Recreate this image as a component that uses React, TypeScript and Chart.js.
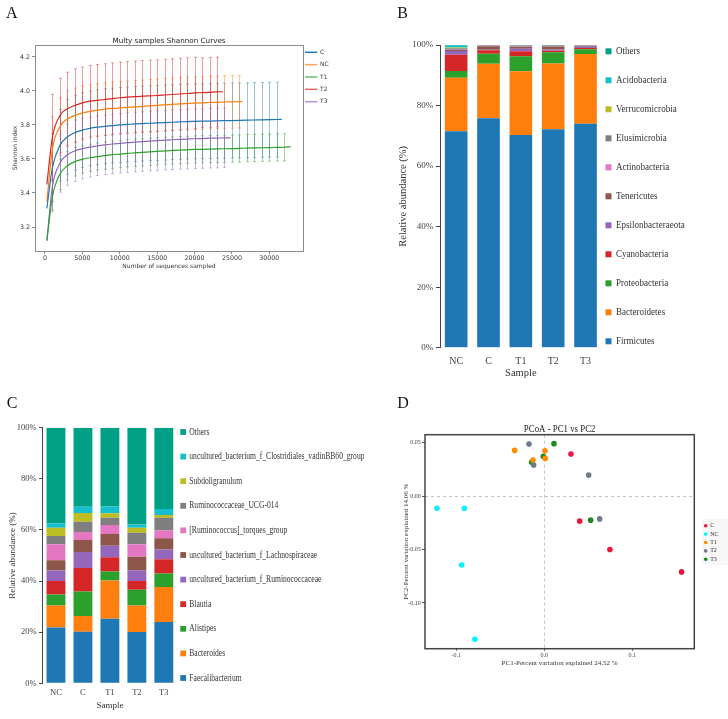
import React, { useEffect, useRef } from 'react';
import { Chart, registerables } from 'chart.js';

Chart.register(...registerables);

const SERIF = "'Liberation Serif', 'Times New Roman', serif";
const SANS = "'DejaVu Sans', sans-serif";

// ---------------- Panel A : Shannon rarefaction curves ----------------
const depths = [250, 1000, 2000, 3000, 4000, 5000, 6000, 7000, 8000, 9000, 10000, 11000, 12000, 13000, 14000, 15000, 16000, 17000, 18000, 19000, 20000, 21000, 22000, 23000, 24000, 25000, 26000, 27000, 28000, 29000, 30000, 31000, 32000];
const shannonGroups = ['C', 'NC', 'T1', 'T2', 'T3'];
const shannonColors = ['#1f77b4', '#ff7f0e', '#2ca02c', '#d62728', '#9467bd'];
const shannonC = [3.31, 3.55, 3.68, 3.73, 3.755, 3.77, 3.78, 3.787, 3.792, 3.796, 3.8, 3.803, 3.806, 3.808, 3.81, 3.812, 3.814, 3.816, 3.818, 3.82, 3.821, 3.822, 3.823, 3.824, 3.825, 3.826, 3.827, 3.828, 3.829, 3.83, 3.831, 3.832];
const shannonCSd = [null, 0.2, 0.21, 0.22, 0.22, 0.22, 0.22, 0.22, 0.22, 0.22, 0.22, 0.22, 0.22, 0.22, 0.22, 0.22, 0.22, 0.22, 0.22, 0.22, 0.22, 0.22, 0.22, 0.22, 0.22, 0.22, 0.22, 0.22, 0.22, 0.22, 0.22, 0.22];
const shannonCEnd = [31650, 3.833];
const shannonNC = [3.35, 3.66, 3.79, 3.835, 3.857, 3.87, 3.88, 3.887, 3.893, 3.897, 3.9, 3.903, 3.906, 3.909, 3.912, 3.915, 3.918, 3.921, 3.924, 3.926, 3.928, 3.93, 3.932, 3.933, 3.935, 3.936, 3.937];
const shannonNCSd = [null, 0.19, 0.17, 0.165, 0.16, 0.16, 0.158, 0.156, 0.155, 0.155, 0.155, 0.155, 0.155, 0.155, 0.155, 0.155, 0.155, 0.155, 0.155, 0.155, 0.155, 0.155, 0.155, 0.155, 0.155, 0.155, 0.155];
const shannonNCEnd = [26390, 3.938];
const shannonT1 = [3.12, 3.38, 3.51, 3.56, 3.585, 3.598, 3.607, 3.614, 3.62, 3.625, 3.629, 3.633, 3.636, 3.639, 3.642, 3.645, 3.648, 3.65, 3.652, 3.654, 3.656, 3.657, 3.658, 3.659, 3.66, 3.661, 3.662, 3.664, 3.665, 3.666, 3.667, 3.668, 3.669];
const shannonT1Sd = [null, 0.09, 0.09, 0.085, 0.085, 0.082, 0.08, 0.08, 0.08, 0.08, 0.08, 0.08, 0.08, 0.08, 0.08, 0.08, 0.08, 0.08, 0.08, 0.08, 0.08, 0.08, 0.08, 0.08, 0.08, 0.08, 0.08, 0.08, 0.08, 0.08, 0.08, 0.08, 0.08];
const shannonT1End = [32860, 3.672];
const shannonT2 = [3.45, 3.73, 3.855, 3.895, 3.915, 3.93, 3.94, 3.945, 3.95, 3.955, 3.96, 3.963, 3.966, 3.969, 3.971, 3.973, 3.976, 3.979, 3.982, 3.985, 3.988, 3.99, 3.992, 3.994];
const shannonT2Sd = [null, 0.25, 0.22, 0.215, 0.215, 0.21, 0.21, 0.21, 0.21, 0.21, 0.21, 0.21, 0.21, 0.21, 0.21, 0.21, 0.21, 0.21, 0.21, 0.21, 0.21, 0.205, 0.205, 0.205];
const shannonT2End = [23770, 3.996];
const shannonT3 = [3.12, 3.44, 3.575, 3.625, 3.648, 3.661, 3.67, 3.677, 3.683, 3.688, 3.692, 3.696, 3.699, 3.702, 3.705, 3.708, 3.711, 3.713, 3.715, 3.717, 3.719, 3.72, 3.722, 3.723, 3.724];
const shannonT3Sd = [null, 0.14, 0.17, 0.18, 0.18, 0.178, 0.176, 0.175, 0.175, 0.175, 0.175, 0.175, 0.175, 0.175, 0.175, 0.175, 0.175, 0.175, 0.175, 0.175, 0.175, 0.175, 0.175, 0.175, 0.175];
const shannonT3End = [24830, 3.725];
const shannonXTicks = [0, 5000, 10000, 15000, 20000, 25000, 30000];
const shannonYTicks = [3.2, 3.4, 3.6, 3.8, 4.0, 4.2];

// ---------------- Panel B : phylum composition ----------------
const samples = ['NC', 'C', 'T1', 'T2', 'T3'];
const phyla = ['Firmicutes', 'Bacteroidetes', 'Proteobacteria', 'Cyanobacteria', 'Epsilonbacteraeota', 'Tenericutes', 'Actinobacteria', 'Elusimicrobia', 'Verrucomicrobia', 'Acidobacteria', 'Others'];
const phylaColors = ['#1f77b4', '#ff7f0e', '#2ca02c', '#d62728', '#9467bd', '#8c564b', '#e377c2', '#7f7f7f', '#bcbd22', '#17becf', '#00a086'];
const firmicutes = [71.5, 75.8, 70.3, 72.2, 74.0];
const bacteroidetes = [17.7, 18.0, 21.0, 21.7, 23.0];
const proteobacteria = [2.2, 3.3, 5.0, 3.7, 1.6];
const cyanobacteria = [5.4, 1.2, 1.6, 0.5, 0.4];
const epsilonbacteraeota = [1.2, 0.1, 0.9, 0.4, 0.4];
const tenericutes = [0.4, 1.2, 0.6, 1.0, 0.3];
const actinobacteria = [0.1, 0.15, 0.2, 0.1, 0.05];
const elusimicrobia = [0.4, 0.15, 0.2, 0.2, 0.15];
const verrucomicrobia = [0.3, 0.02, 0.05, 0.05, 0.02];
const acidobacteria = [0.6, 0.03, 0.05, 0.05, 0.03];
const phylaOthers = [0.2, 0.05, 0.1, 0.1, 0.05];
const phylaValues = [firmicutes, bacteroidetes, proteobacteria, cyanobacteria, epsilonbacteraeota, tenericutes, actinobacteria, elusimicrobia, verrucomicrobia, acidobacteria, phylaOthers];
const percentTicks = [0, 20, 40, 60, 80, 100];

// ---------------- Panel C : genus composition ----------------
const genera = ['Faecalibacterium', 'Bacteroides', 'Alistipes', 'Blautia', 'uncultured_bacterium_f_Ruminococcaceae', 'uncultured_bacterium_f_Lachnospiraceae', '[Ruminococcus]_torques_group', 'Ruminococcaceae_UCG-014', 'Subdoligranulum', 'uncultured_bacterium_f_Clostridiales_vadinBB60_group', 'Others'];
const generaColors = ['#1f77b4', '#ff7f0e', '#2ca02c', '#d62728', '#9467bd', '#8c564b', '#e377c2', '#7f7f7f', '#bcbd22', '#17becf', '#00a086'];
const faecalibacterium = [21.8, 20.2, 25.3, 20.1, 24.0];
const bacteroides = [8.6, 6.1, 14.9, 10.3, 13.7];
const alistipes = [4.3, 9.6, 3.5, 6.2, 5.3];
const blautia = [5.3, 9.2, 5.6, 3.4, 5.5];
const ruminococcaceaeF = [4.1, 6.3, 4.5, 4.2, 3.8];
const lachnospiraceaeF = [4.0, 4.7, 4.6, 5.3, 4.4];
const torquesGroup = [6.3, 3.1, 3.5, 4.9, 3.1];
const ucg014 = [3.2, 4.0, 2.9, 4.5, 5.0];
const subdoligranulum = [3.3, 3.4, 1.7, 2.0, 1.0];
const vadinBB60 = [1.7, 2.5, 2.7, 1.2, 2.4];
const generaOthers = [37.4, 30.9, 30.8, 37.9, 31.8];
const generaValues = [faecalibacterium, bacteroides, alistipes, blautia, ruminococcaceaeF, lachnospiraceaeF, torquesGroup, ucg014, subdoligranulum, vadinBB60, generaOthers];

// ---------------- Panel D : PCoA ----------------
const pcoaGroups = ['C', 'NC', 'T1', 'T2', 'T3'];
const pcoaColors = ['#e8173f', '#00f5ff', '#ff8c00', '#6d7b8d', '#1e8b1e'];
const pcoaC = [[0.0303, 0.0394], [0.0402, -0.0234], [0.0746, -0.05], [0.156, -0.0709]];
const pcoaNC = [[-0.122, -0.0113], [-0.0909, -0.0113], [-0.0939, -0.0644], [-0.0788, -0.134]];
const pcoaT1 = [[-0.0337, 0.0428], [0.0008, 0.0425], [-0.0129, 0.0338], [0.0011, 0.0353]];
const pcoaT2 = [[-0.0174, 0.0488], [-0.0121, 0.0291], [0.0504, 0.0197], [0.0629, -0.0213]];
const pcoaT3 = [[0.011, 0.0491], [-0.0011, 0.0372], [-0.0144, 0.0316], [0.0527, -0.0225]];
const pcoaXTicks = [-0.1, 0, 0.1];
const pcoaYTicks = [-0.1, -0.05, 0, 0.05];

// ---------------- helpers ----------------
function drawText(ctx: any, text: string, x: number, y: number, font: string, color: string, align = 'left', sx = 1, baseline = 'middle') {
  ctx.save();
  ctx.font = font;
  ctx.fillStyle = color;
  ctx.textAlign = align;
  ctx.textBaseline = baseline;
  ctx.translate(x, y);
  ctx.scale(sx, 1);
  ctx.fillText(text, 0, 0);
  ctx.restore();
}

function fixedTicks(values: number[]) {
  return (scale: any) => {
    scale.ticks = values.map((v) => ({ value: v }));
  };
}

// ---------------- configs ----------------
function configA() {
  const series = [
    { mean: shannonC, sd: shannonCSd, end: shannonCEnd },
    { mean: shannonNC, sd: shannonNCSd, end: shannonNCEnd },
    { mean: shannonT1, sd: shannonT1Sd, end: shannonT1End },
    { mean: shannonT2, sd: shannonT2Sd, end: shannonT2End },
    { mean: shannonT3, sd: shannonT3Sd, end: shannonT3End },
  ];
  const datasets = series.map((s, i) => ({
    label: shannonGroups[i],
    data: [...s.mean.map((m, k) => ({ x: depths[k], y: m })), { x: s.end[0], y: s.end[1] }],
    sd: [...s.sd, null],
    borderColor: shannonColors[i],
    borderWidth: 1.2,
    pointRadius: 0,
    fill: false,
    cubicInterpolationMode: 'monotone',
  }));
  const frame = '#8c8c8c';
  const plugin = {
    id: 'panelA',
    beforeDatasetsDraw(chart: any) {
      const { ctx, scales } = chart;
      const x = scales.x, y = scales.y;
      chart.data.datasets.forEach((ds: any) => {
        ctx.save();
        ctx.strokeStyle = ds.borderColor;
        ctx.globalAlpha = 0.45;
        ctx.lineWidth = 1;
        ds.data.forEach((p: any, i: number) => {
          const sd = ds.sd[i];
          if (sd == null) return;
          const px = Math.round(x.getPixelForValue(p.x)) + 0.5;
          const y1 = y.getPixelForValue(p.y - sd);
          const y2 = y.getPixelForValue(p.y + sd);
          ctx.beginPath();
          ctx.moveTo(px, y1); ctx.lineTo(px, y2);
          ctx.moveTo(px - 1.5, y1); ctx.lineTo(px + 1.5, y1);
          ctx.moveTo(px - 1.5, y2); ctx.lineTo(px + 1.5, y2);
          ctx.stroke();
        });
        ctx.restore();
      });
    },
    afterDraw(chart: any) {
      const { ctx, chartArea: a } = chart;
      ctx.save();
      ctx.strokeStyle = frame;
      ctx.lineWidth = 1;
      ctx.strokeRect(Math.round(a.left) + 0.5, Math.round(a.top) + 0.5, Math.round(a.right - a.left), Math.round(a.bottom - a.top));
      ctx.restore();
      drawText(ctx, 'Multy samples Shannon Curves', (a.left + a.right) / 2, 41, `7.2px ${SANS}`, '#222', 'center');
      shannonGroups.forEach((g, i) => {
        const yy = 52.3 + i * 12.35;
        ctx.save();
        ctx.strokeStyle = shannonColors[i];
        ctx.globalAlpha = i === 0 ? 1 : 0.7;
        ctx.lineWidth = 1.5;
        ctx.beginPath(); ctx.moveTo(305, yy); ctx.lineTo(317.3, yy); ctx.stroke();
        ctx.restore();
        drawText(ctx, g, 320, yy, `6px ${SANS}`, '#333');
      });
      drawText(ctx, 'A', 6, 17.5, `16px ${SERIF}`, '#111', 'left', 1, 'alphabetic');
    },
  };
  return {
    type: 'line',
    data: { datasets },
    plugins: [plugin],
    options: {
      responsive: false,
      animation: false,
      devicePixelRatio: 1,
      layout: { padding: { left: 0, top: 45, right: 61, bottom: 0 } },
      plugins: { legend: { display: false }, tooltip: { enabled: false } },
      scales: {
        x: {
          type: 'linear', min: -1335, max: 34500,
          afterBuildTicks: fixedTicks(shannonXTicks),
          afterFit: (s: any) => { s.height = 49; },
          ticks: { font: { family: SANS, size: 6.3 }, color: '#333', padding: 0.5, maxRotation: 0, autoSkip: false, callback: (v: any) => String(v) },
          grid: { drawOnChartArea: false, drawTicks: true, tickLength: 3, color: frame },
          border: { display: false },
          title: { display: true, text: 'Number of sequences sampled', font: { family: SANS, size: 6 }, color: '#333', padding: { top: 0, bottom: 29.7 } },
        },
        y: {
          type: 'linear', min: 3.059, max: 4.27,
          afterBuildTicks: fixedTicks(shannonYTicks),
          afterFit: (s: any) => { s.width = 35; },
          ticks: { font: { family: SANS, size: 6.3 }, color: '#333', padding: 2, autoSkip: false, callback: (v: any) => Number(v).toFixed(1) },
          grid: { drawOnChartArea: false, drawTicks: true, tickLength: 3, color: frame },
          border: { display: false },
          title: { display: true, text: 'Shannon index', font: { family: SANS, size: 6 }, color: '#333', padding: { top: 11.4, bottom: 0 } },
        },
      },
    },
  };
}

function stackedConfig(opts: any) {
  const { names, colors, values, padding, yWidth, xHeight, tickFont, xTickFont, xPad, yPad, yTickLen, titleFont, yTitlePad, xTitlePad, legend, letter } = opts;
  const datasets = names.map((n: string, i: number) => ({
    label: n,
    data: values[i],
    backgroundColor: colors[i],
    borderWidth: 0,
    barPercentage: 0.7,
    categoryPercentage: 1,
  }));
  const plugin = {
    id: 'stackedExtras',
    afterDraw(chart: any) {
      const { ctx } = chart;
      for (let i = 0; i < names.length; i++) {
        const idx = names.length - 1 - i;
        const yy = legend.y0 + i * legend.dy;
        ctx.save();
        ctx.fillStyle = colors[idx];
        ctx.fillRect(legend.x, yy - legend.sq / 2, legend.sq, legend.sq);
        ctx.restore();
        drawText(ctx, names[idx], legend.tx, yy, `${legend.size}px ${SERIF}`, '#333', 'left', legend.sx);
      }
      drawText(ctx, letter.text, letter.x, letter.y, `16px ${SERIF}`, '#111', 'left', 1, 'alphabetic');
    },
  };
  return {
    type: 'bar',
    data: { labels: samples, datasets },
    plugins: [plugin],
    options: {
      responsive: false,
      animation: false,
      devicePixelRatio: 1,
      layout: { padding },
      plugins: { legend: { display: false }, tooltip: { enabled: false } },
      scales: {
        x: {
          stacked: true,
          afterFit: (s: any) => { s.height = xHeight; },
          grid: { display: false, drawTicks: false, tickLength: 0 },
          border: { display: false },
          ticks: { font: { family: SERIF, size: xTickFont }, color: '#444', padding: xPad, maxRotation: 0 },
          title: { display: true, text: 'Sample', font: { family: SERIF, size: titleFont }, color: '#333', padding: { top: 0, bottom: xTitlePad } },
        },
        y: {
          stacked: true, min: 0, max: 100,
          afterBuildTicks: fixedTicks(percentTicks),
          afterFit: (s: any) => { s.width = yWidth; },
          grid: { drawOnChartArea: false, drawTicks: true, tickLength: yTickLen, color: '#444' },
          border: { display: true, color: '#444', width: 1 },
          ticks: { font: { family: SERIF, size: tickFont }, color: '#444', padding: yPad, callback: (v: any) => `${v}%` },
          title: { display: true, text: 'Relative abundance (%)', font: { family: SERIF, size: titleFont }, color: '#333', padding: { top: yTitlePad, bottom: 0 } },
        },
      },
    },
  };
}

function configB() {
  return stackedConfig({
    names: phyla, colors: phylaColors, values: phylaValues,
    padding: { left: 0, top: 45, right: 126.3, bottom: 0 },
    yWidth: 76, xHeight: 32.3, tickFont: 9, xTickFont: 10, xPad: 7.3, yPad: 2.7, yTickLen: 4,
    titleFont: 10.5, yTitlePad: 32.7, xTitlePad: 0.2,
    legend: { x: 241.5, tx: 252, sq: 6, y0: 51.3, dy: 29.0, size: 10.5, sx: 0.86 },
    letter: { text: 'B', x: 33.3, y: 18.3 },
  });
}

function configC() {
  return stackedConfig({
    names: genera, colors: generaColors, values: generaValues,
    padding: { left: 0, top: 67.7, right: 186.7, bottom: 0 },
    yWidth: 42.5, xHeight: 35.7, tickFont: 8.5, xTickFont: 8.5, xPad: 4.6, yPad: 2.3, yTickLen: 3.5,
    titleFont: 9, yTitlePad: 7.3, xTitlePad: 7.9,
    legend: { x: 180.3, tx: 189.3, sq: 5.8, y0: 72, dy: 24.6, size: 9.5, sx: 0.8 },
    letter: { text: 'C', x: 6.7, y: 48.3 },
  });
}

function configD() {
  const groups = [pcoaC, pcoaNC, pcoaT1, pcoaT2, pcoaT3];
  const datasets = groups.map((g, i) => ({
    label: pcoaGroups[i],
    data: g.map((p) => ({ x: p[0], y: p[1] })),
    backgroundColor: pcoaColors[i],
    borderWidth: 0,
    pointRadius: 2.8,
  }));
  const plugin = {
    id: 'panelD',
    beforeDatasetsDraw(chart: any) {
      const { ctx, chartArea: a, scales } = chart;
      const x0 = Math.round(scales.x.getPixelForValue(0)) + 0.5;
      const y0 = Math.round(scales.y.getPixelForValue(0)) + 0.5;
      ctx.save();
      ctx.strokeStyle = '#c4c4c4';
      ctx.lineWidth = 1;
      ctx.setLineDash([3, 3]);
      ctx.beginPath();
      ctx.moveTo(x0, a.top); ctx.lineTo(x0, a.bottom);
      ctx.moveTo(a.left, y0); ctx.lineTo(a.right, y0);
      ctx.stroke();
      ctx.restore();
    },
    afterDraw(chart: any) {
      const { ctx, chartArea: a } = chart;
      ctx.save();
      ctx.strokeStyle = '#444';
      ctx.lineWidth = 1.5;
      ctx.strokeRect(a.left, a.top, a.right - a.left, a.bottom - a.top);
      ctx.restore();
      drawText(ctx, 'PCoA - PC1 vs PC2', (a.left + a.right) / 2, 49, `10.5px ${SERIF}`, '#222', 'center', 0.84);
      ctx.save();
      ctx.fillStyle = '#f7f7f7';
      ctx.fillRect(338, 139, 26, 46);
      ctx.restore();
      pcoaGroups.forEach((g, i) => {
        const yy = 145.7 + i * 8.4;
        ctx.save();
        ctx.fillStyle = pcoaColors[i];
        ctx.beginPath(); ctx.arc(341.7, yy, 1.8, 0, Math.PI * 2); ctx.fill();
        ctx.restore();
        drawText(ctx, g, 346.2, yy, `6px ${SERIF}`, '#333');
      });
      drawText(ctx, 'D', 33.3, 28.3, `16px ${SERIF}`, '#111', 'left', 1, 'alphabetic');
    },
  };
  return {
    type: 'scatter',
    data: { datasets },
    plugins: [plugin],
    options: {
      responsive: false,
      animation: false,
      devicePixelRatio: 1,
      layout: { padding: { left: 0, top: 54.7, right: 33.7, bottom: 0 } },
      plugins: { legend: { display: false }, tooltip: { enabled: false } },
      scales: {
        x: {
          type: 'linear', min: -0.1356, max: 0.1705,
          afterBuildTicks: fixedTicks(pcoaXTicks),
          afterFit: (s: any) => { s.height = 70.3; },
          ticks: { font: { family: SERIF, size: 6 }, color: '#444', padding: 0.7, autoSkip: false, maxRotation: 0, callback: (v: any) => Number(v).toFixed(1) },
          grid: { drawOnChartArea: false, drawTicks: true, tickLength: 2, color: '#555' },
          border: { display: false },
          title: { display: true, text: 'PC1-Percent variation explained 24.52 %', font: { family: SERIF, size: 7 }, color: '#333', padding: { top: 0, bottom: 51.8 } },
        },
        y: {
          type: 'linear', min: -0.1428, max: 0.0575,
          afterBuildTicks: fixedTicks(pcoaYTicks),
          afterFit: (s: any) => { s.width = 61; },
          ticks: { font: { family: SERIF, size: 6 }, color: '#444', padding: 1.3, autoSkip: false, callback: (v: any) => Number(v).toFixed(2) },
          grid: { drawOnChartArea: false, drawTicks: true, tickLength: 3, color: '#555' },
          border: { display: false },
          title: { display: true, text: 'PC2-Percent variation explained 14.06 %', font: { family: SERIF, size: 7 }, color: '#333', padding: { top: 37.5, bottom: 0 } },
        },
      },
    },
  };
}

function ChartCanvas({ left, top, width, height, make }: any) {
  const ref = useRef<HTMLCanvasElement>(null);
  useEffect(() => {
    const chart = new Chart(ref.current as HTMLCanvasElement, make() as any);
    return () => chart.destroy();
  }, []);
  return (
    <canvas
      ref={ref}
      width={width}
      height={height}
      style={{ position: 'absolute', left, top, width, height }}
    />
  );
}

export default function App() {
  useEffect(() => {
    document.body.style.margin = '0';
  }, []);
  return (
    <div style={{ position: 'absolute', left: 0, top: 0, width: 728, height: 719, background: '#fff', overflow: 'hidden' }}>
      <ChartCanvas left={0} top={0} width={364} height={300} make={configA} />
      <ChartCanvas left={364} top={0} width={364} height={380} make={configB} />
      <ChartCanvas left={0} top={360} width={364} height={359} make={configC} />
      <ChartCanvas left={364} top={380} width={364} height={339} make={configD} />
    </div>
  );
}
